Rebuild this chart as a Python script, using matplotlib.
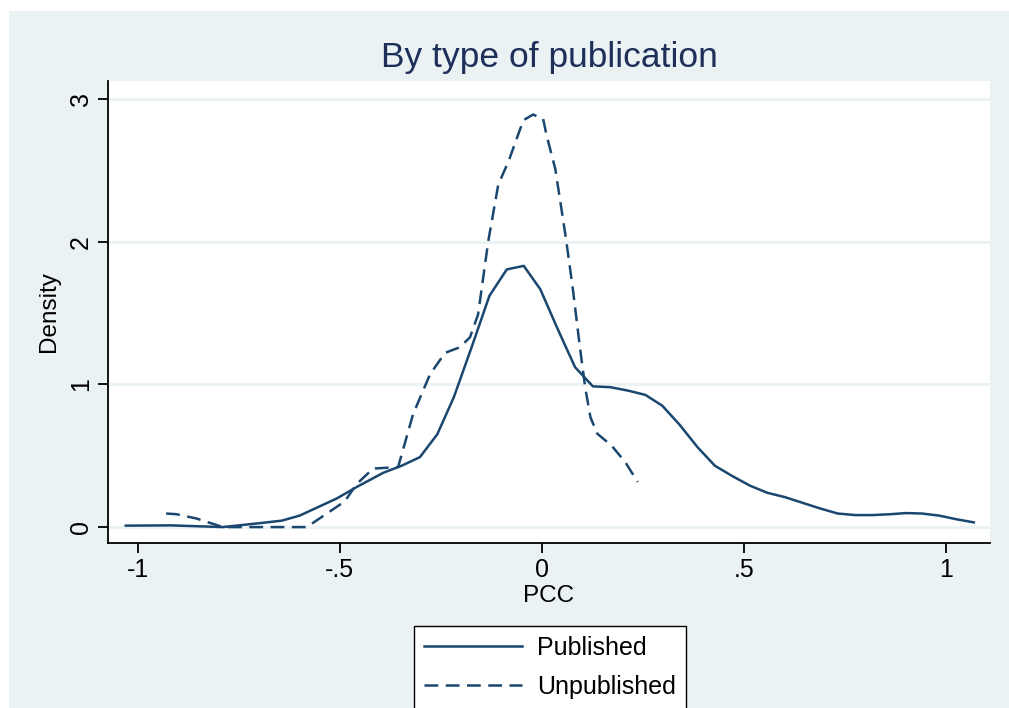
import matplotlib
matplotlib.use('Agg')
import matplotlib.pyplot as plt
from matplotlib.patches import Rectangle

plt.rcParams['font.family'] = ['Liberation Sans', 'DejaVu Sans']

# kernel density estimates
pub_x = [-1.03, -0.92, -0.79, -0.69, -0.644, -0.60, -0.554, -0.508, -0.459, -0.393,
         -0.347, -0.302, -0.259, -0.218, -0.174, -0.130, -0.087, -0.045, -0.004, 0.037,
         0.082, 0.126, 0.169, 0.213, 0.256, 0.298, 0.341, 0.385, 0.428, 0.472,
         0.515, 0.558, 0.601, 0.645, 0.689, 0.732, 0.775, 0.819, 0.862, 0.901,
         0.94, 0.984, 1.027, 1.069]
pub_y = [0.01, 0.012, 0.0, 0.03, 0.045, 0.08, 0.14, 0.20, 0.28, 0.38,
         0.43, 0.49, 0.65, 0.91, 1.26, 1.62, 1.805, 1.83, 1.666, 1.40,
         1.12, 0.986, 0.98, 0.956, 0.926, 0.85, 0.716, 0.56, 0.43, 0.356,
         0.29, 0.24, 0.21, 0.17, 0.13, 0.095, 0.084, 0.084, 0.09, 0.098,
         0.095, 0.08, 0.054, 0.033]

unpub_x = [-0.93, -0.904, -0.855, -0.79, -0.582, -0.488, -0.459, -0.418, -0.356, -0.319,
           -0.277, -0.24, -0.203, -0.178, -0.158, -0.133, -0.108, -0.083, -0.046, -0.022,
           0.003, 0.011, 0.033, 0.059, 0.076, 0.094, 0.107, 0.12, 0.137, 0.172,
           0.206, 0.237]
unpub_y = [0.095, 0.09, 0.06, 0.0, 0.0, 0.18, 0.30, 0.41, 0.42, 0.79,
           1.07, 1.22, 1.26, 1.33, 1.49, 2.0, 2.40, 2.56, 2.85, 2.89,
           2.86, 2.75, 2.51, 2.03, 1.68, 1.26, 0.98, 0.77, 0.654, 0.572,
           0.456, 0.316]

xticks = [-1, -0.5, 0, 0.5, 1]
xtick_labels = ['-1', '-.5', '0', '.5', '1']
yticks = [0, 1, 2, 3]

navy = '#1a476f'
bg = '#eaf2f3'

W, H = 1009, 708
fig = plt.figure(figsize=(W / 100, H / 100), dpi=100, facecolor='white')
fig.patches.append(Rectangle((9 / W, 0), 1 - 9 / W, 1 - 11 / H, transform=fig.transFigure,
                             facecolor=bg, edgecolor='none', zorder=-10))

ax = fig.add_axes([108 / W, 1 - 543 / H, (990 - 108) / W, (543 - 81) / H])
ax.set_facecolor('white')

ax.plot(pub_x, pub_y, color=navy, lw=1.8, label='Published')
ax.plot(unpub_x, unpub_y, color=navy, lw=1.8, linestyle=(0, (5.5, 3.0)), label='Unpublished')

ax.set_xlim(-1.074, 1.109)
ax.set_ylim(-0.1116, 3.125)
ax.set_xticks(xticks)
ax.set_xticklabels(xtick_labels)
ax.set_yticks(yticks)
ax.set_yticklabels([str(v) for v in yticks], rotation=90, va='center')

for v in yticks:
    ax.axhline(v, color=bg, lw=2.2, zorder=0)

for s in ['top', 'right']:
    ax.spines[s].set_visible(False)
for s in ['left', 'bottom']:
    ax.spines[s].set_linewidth(1.3)
    ax.spines[s].set_color('black')

ax.tick_params(axis='both', direction='out', length=7, width=1.3, labelsize=18, pad=4)

ax.set_title('By type of publication', fontsize=25.5, color='#1e2f5a', pad=10)
ax.set_xlabel('PCC', fontsize=17.5, labelpad=2)
ax.set_ylabel('Density', fontsize=17.5, labelpad=6)

leg = fig.legend(loc='upper center', bbox_to_anchor=(550 / W, 1 - 626 / H),
                 fontsize=18, frameon=True, fancybox=False, edgecolor='black',
                 framealpha=1, facecolor='white',
                 handlelength=3.9, handletextpad=0.6, labelspacing=0.6,
                 borderpad=0.4, borderaxespad=0)
leg.get_frame().set_linewidth(1.0)

fig.savefig('out.png', dpi=100, facecolor=fig.get_facecolor())
